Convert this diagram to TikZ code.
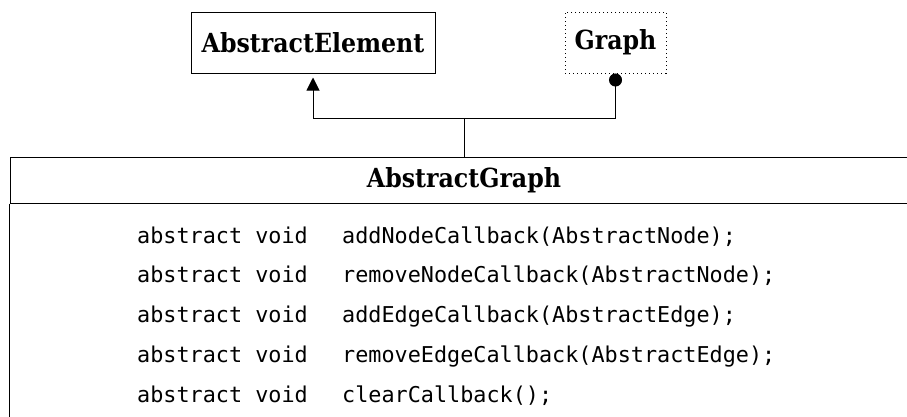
\documentclass[tikz,border=0pt]{standalone}
\usepackage{fontspec}
\setmonofont{DejaVu Sans Mono}
\newfontfamily\classfont{DejaVu Serif}[FakeStretch=0.9]
\usetikzlibrary{arrows.meta}

\tikzset{
  classbox/.style={draw, line width=1pt, inner sep=0pt,
    font=\classfont\bfseries\fontsize{26.3}{30}\selectfont},
  method/.style={anchor=base west, inner sep=0pt,
    font=\ttfamily\fontsize{21.8}{26}\selectfont},
  link/.style={line width=1pt}
}

\begin{document}
\begin{tikzpicture}[x=1pt,y=-1pt]
\useasboundingbox (0,0) rectangle (907,416);
\clip (0,0) rectangle (907,416);

% Parent classes
\node[classbox, minimum width=244pt, minimum height=61pt] (elem) at (313,42.5) {AbstractElement};
\node[classbox, dash pattern=on 1pt off 3pt, minimum width=101pt, minimum height=61pt] (graph) at (615.5,42.5) {Graph};

% Class box, runs past the page edge
\node[classbox, minimum width=908pt, minimum height=46pt] (agraph) at (464,180) {AbstractGraph};
\draw[link] (agraph.south west) -- ++(0,260) (agraph.south east) -- ++(0,260);

% Methods
\foreach \m [count=\i from 0] in {{addNodeCallback(AbstractNode);},
    {removeNodeCallback(AbstractNode);}, {addEdgeCallback(AbstractEdge);},
    {removeEdgeCallback(AbstractEdge);}, {clearCallback();}} {
  \node[method] (kw\i) at (137,{243+39.75*\i}) {abstract void};
  \node[method] (m\i) at (342,{243+39.75*\i}) {\m};
}

% Connectors
\coordinate (join) at (agraph.north |- 0,118);
\draw[link] (agraph.north) -- (join);
\draw[link, -{Triangle[length=13pt,width=13pt]}, shorten >=4pt] (join) -| (elem.south);
\draw[link, -{Circle[length=13pt,width=13pt]}] (join) -| (graph.south);
\end{tikzpicture}
\end{document}
